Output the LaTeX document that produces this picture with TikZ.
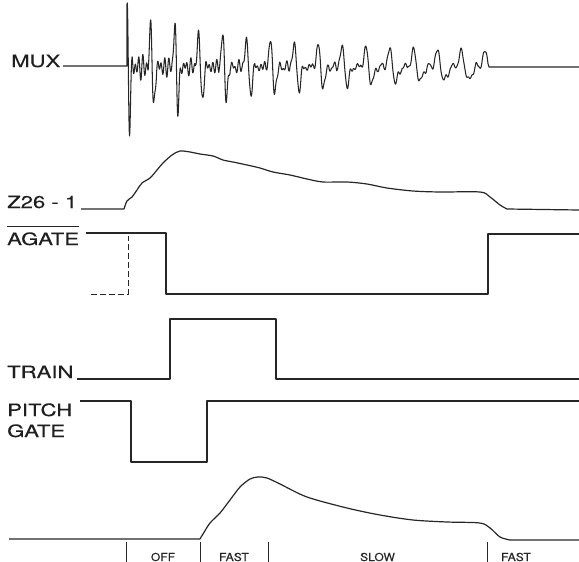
\documentclass[tikz,border=0pt]{standalone}
\usepackage{fontspec}
\newfontfamily\sigfont[FakeStretch=1.3, FakeBold=0.15]{TeX Gyre Heros}
\newfontfamily\phasefont[FakeStretch=1.1, FakeBold=0.15]{TeX Gyre Heros}
\usepackage{tikz}
\usetikzlibrary{calc}
\tikzstyle{siglabel} = [anchor=base west, inner sep=0pt, text=black!88, font=\sigfont\fontsize{17}{19}\selectfont]
\tikzstyle{phaselabel} = [anchor=base, inner sep=0pt, text=black!85, font=\phasefont\fontsize{11}{12}\selectfont]
\tikzstyle{trace} = [draw=black!85, line width=1.2pt, line join=round]
\tikzstyle{phasetick} = [draw=black!85, line width=0.9pt]

\begin{document}
\begin{tikzpicture}[x=1pt, y=-1pt,
  declare function={
    muxamp(\u)=45*exp(-\u/110)+12;
    muxwid(\u)=1.2+\u/150;
    muxv(\u)=(mod(\u+9,23.9)-9-muxwid(\u))/muxwid(\u);
    muxpulse(\u)=1.65*muxamp(\u)*(-muxv(\u))*exp(-min(muxv(\u)*muxv(\u)/2,12))*(abs(muxv(\u))<3);
    muxjit(\u)=(14*exp(-\u/100)+1.2)*(0.6*sin(mod(\u,3.7)*97.3)+0.4*sin(mod(\u,5.3)*67.92+70))+4*(1-exp(-\u/150))*sin(mod(\u,7.9)*45.57);
  }]
\useasboundingbox (0,0) rectangle (579,562);

% Place nodes
\node [siglabel] (mux) at (11,67) {MUX};
\node [siglabel] (z26) at (7,208) {Z26 - 1};
\node [siglabel] (agate) at (7,245) {AGATE};
\node [siglabel] (train) at (7,378) {TRAIN};
\node [siglabel] (pitch) at (7,416) {PITCH};
\node [siglabel] (gate) at (7,437) {GATE};

\coordinate (t1) at (126,542);
\coordinate (t2) at (200,542);
\coordinate (t3) at (268,542);
\coordinate (t4) at (487,542);
\coordinate (t5) at (545,542);

\node [phaselabel] (off) at ($(t1)!0.5!(t2)+(0,19)$) {OFF};
\node [phaselabel] (fast1) at ($(t2)!0.5!(t3)+(0,19)$) {FAST};
\node [phaselabel] (slow) at ($(t3)!0.5!(t4)+(0,19)$) {SLOW};
\node [phaselabel] (fast2) at ($(t4)!0.5!(t5)+(0,19)$) {FAST};

% Draw traces
\draw [trace, line width=1.05pt] (63,66) -- (127,66) -- plot [domain=127:488, samples=1400, variable=\x] ({\x},{67-muxpulse(\x-127)-muxjit(\x-127)}) -- (489,67) -- (579,67);

\draw [trace] (81,209) -- (124,209) -- plot [smooth, tension=0.5] coordinates {(124,209) (127,201) (132,197) (137,190) (142,183) (150,178) (157,170) (163,163) (172,155) (180,151) (190,152) (200,154) (213,156) (223,160) (233,162) (247,165) (260,168) (273,172) (290,175) (307,179) (323,182) (347,182) (367,184) (387,188) (413,191) (440,192) (480,192) (490,197) (500,205) (507,209)} -- (579,210);

\draw [trace] ([yshift=5.5pt]agate.north west) -- ([yshift=5.5pt]agate.north east);
\draw [trace] (86,233) -- (166,233) -- (166,294) -- (488,294) -- (488,234) -- (579,234);
\draw [trace, line width=1pt, dash pattern=on 6pt off 3pt] (91,294) -- (128,294) -- (128,236);

\draw [trace] (77,379) -- (170,379) -- (170,319) -- (276,319) -- (276,379) -- (579,379);

\draw [trace] (80,401) -- (131,401) -- (131,462) -- (207,462) -- (207,401) -- (579,401);

\draw [trace] (9,539) -- (200,539) -- plot [smooth, tension=0.5] coordinates {(200,539) (203,534) (210,523) (220,513) (230,500) (240,487) (250,479) (258,477) (267,478) (280,484) (307,497) (347,508) (380,515) (413,520) (447,522) (480,523) (490,528) (500,537) (510,540)} -- (579,540);

\foreach \t in {t1,t2,t3,t4}
  \draw [phasetick] (\t) -- ++(0,20);
\end{tikzpicture}
\end{document}
